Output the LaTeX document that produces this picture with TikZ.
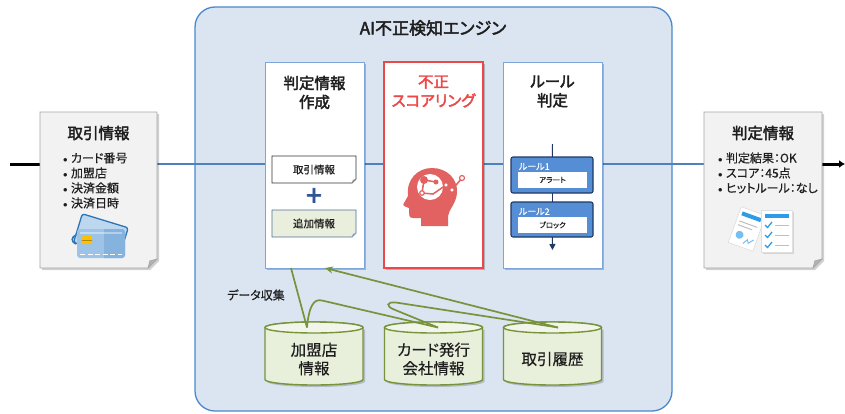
\documentclass[tikz,border=0pt]{standalone}
\usepackage{fontspec}
\setmainfont{Noto Sans CJK JP}[RawFeature={+palt},FakeBold=0.5,BoldFont=*,BoldFeatures={FakeBold=2.4}]
\usetikzlibrary{arrows.meta,shadows,calc}

\definecolor{engfill}{RGB}{219,228,241}
\definecolor{engline}{RGB}{74,137,204}
\definecolor{flowblue}{RGB}{79,129,189}
\definecolor{boxline}{RGB}{125,165,215}
\definecolor{scorered}{RGB}{236,72,72}
\definecolor{docfill}{RGB}{242,242,242}
\definecolor{docline}{RGB}{166,166,166}
\definecolor{dbfill}{RGB}{232,239,219}
\definecolor{dbtop}{RGB}{242,246,234}
\definecolor{dbline}{RGB}{119,147,60}
\definecolor{rulefill}{RGB}{85,142,213}
\definecolor{ruleline}{RGB}{31,56,100}
\definecolor{plusblue}{RGB}{47,85,151}
\definecolor{headred}{RGB}{226,98,98}
\definecolor{addfill}{RGB}{234,239,221}
\definecolor{addline}{RGB}{79,112,160}
\definecolor{txt}{RGB}{30,30,30}
\definecolor{cardblue}{RGB}{46,117,182}
\definecolor{cardpale}{RGB}{189,215,238}
\definecolor{cardfront}{RGB}{157,195,230}
\definecolor{cardfrontdark}{RGB}{134,178,222}
\definecolor{chipgold}{RGB}{255,192,0}
\definecolor{iconblue}{RGB}{47,155,232}
\definecolor{iconlight}{RGB}{120,190,240}

\newcommand\setfs[2]{\fontsize{#1}{#2}\selectfont}

% outline of a sheet with a folded lower right corner, shifted by #3
\newcommand\sheetpath[3]{([xshift=#3,yshift=-#3]#1.north west) -- ([xshift=#3,yshift=-#3]#1.north east) -- ([xshift=#3,yshift=#2-#3]#1.south east) -- ([xshift=#3-#2,yshift=-#3]#1.south east) -- ([xshift=#3,yshift=-#3]#1.south west) -- cycle}
\newcommand\foldcorner[2]{([yshift=#2]#1.south east) -- ([xshift=-#2]#1.south east) -- ([xshift=-0.8*#2,yshift=0.8*#2]#1.south east) -- cycle}

% database cylinder: name, centre x, label
\newcommand\dbstore[3]{%
  \fill[black,opacity=0.18] ({#2-47},329.5) -- ({#2-47},381.5) arc[start angle=180,end angle=360,x radius=49pt,y radius=5.5pt] -- ({#2+51},329.5) -- cycle;
  \filldraw[fill=dbfill,draw=dbline,line width=1.4pt] ({#2-49},327.5) -- ({#2-49},379.5) arc[start angle=180,end angle=360,x radius=49pt,y radius=5.5pt] -- ({#2+49},327.5) arc[start angle=0,end angle=180,x radius=49pt,y radius=5.5pt] -- cycle;
  \filldraw[fill=dbtop,draw=dbline,line width=1.4pt] (#2,327.5) ellipse[x radius=49pt,y radius=5.5pt];
  \coordinate (#1-top) at (#2,327.5);
  \node[dblabel] (#1) at (#2,359) {#3};
}

\tikzset{
  every node/.style={inner sep=0pt,outer sep=0pt},
  engine/.style={draw=engline,fill=engfill,line width=1.3pt,rounded corners=20pt,minimum width=477pt,minimum height=404pt},
  enginetitle/.style={font=\bfseries\setfs{17}{20},text=txt},
  stage/.style={draw=boxline,fill=white,line width=0.9pt,minimum width=99pt,minimum height=206pt,
    drop shadow={opacity=0.22,shadow xshift=2pt,shadow yshift=-2pt,fill=black}},
  scorestage/.style={stage,draw=scorered,line width=1.8pt},
  stagetitle/.style={font=\bfseries\setfs{15.5}{19},text=txt,align=center},
  docarea/.style={minimum width=117pt,minimum height=156pt},
  docsheet/.style={fill=docfill,draw=docline,line width=0.9pt},
  doctitle/.style={font=\bfseries\setfs{15.5}{19},text=txt},
  bulletline/.style={anchor=base west,font=\setfs{12}{15},text=txt},
  flowin/.style={line width=3pt,black},
  flow/.style={line width=2.4pt,flowblue},
  minidoc/.style={minimum width=84pt,minimum height=27pt},
  minitext/.style={font=\setfs{10.5}{12},text=txt},
  rulebox/.style={draw=ruleline,fill=rulefill,line width=1.1pt,rounded corners=2pt,minimum width=82pt},
  rulelabel/.style={anchor=west,font=\setfs{9}{10},text=white},
  ruleact/.style={fill=white,minimum width=69pt,minimum height=16pt,font=\setfs{7.5}{8},text=txt},
  rulelink/.style={line width=1pt,ruleline},
  dblabel/.style={font=\setfs{15.5}{18.5},text=txt,align=center},
  feed/.style={line width=1.7pt,dbline},
  feedlabel/.style={font=\setfs{12}{14},text=txt},
}

\begin{document}
\begin{tikzpicture}[x=1pt,y=-1pt]
\useasboundingbox (0,0) rectangle (845,413);
\fill[white] (0,0) rectangle (845,413);

% engine frame
\node[engine] (eng) at (433.5,209) {};
\node[enginetitle] (engtitle) at (433,28) {AI不正検知エンジン};

% main data flow
\coordinate (in) at (10,164);
\coordinate (out) at (845,164);
\node[docarea] (ldoc) at (98.5,190) {};
\node[docarea,minimum width=118pt] (rdoc) at (763,190) {};
\draw[flowin] (in) -- (ldoc.west |- in);
\draw[flow] (ldoc.east |- in) -- (rdoc.west |- in);
\draw[flowin,-{Latex[length=6pt,width=8pt]}] (rdoc.east |- in) -- (out);

% input sheet
\fill[black,opacity=0.18] \sheetpath{ldoc}{9pt}{2pt};
\filldraw[docsheet] \sheetpath{ldoc}{9pt}{0pt};
\filldraw[fill=black!30,draw=docline,line width=0.6pt] \foldcorner{ldoc}{9pt};
\node[doctitle] (ldoctitle) at (98.5,133) {取引情報};
\node[bulletline] (lb1) at (63,162.5) {\makebox[8pt][l]{\scalebox{0.75}{$\bullet$}}カード番号};
\node[bulletline] (lb2) at (63,177.5) {\makebox[8pt][l]{\scalebox{0.75}{$\bullet$}}加盟店};
\node[bulletline] (lb3) at (63,192.5) {\makebox[8pt][l]{\scalebox{0.75}{$\bullet$}}決済金額};
\node[bulletline] (lb4) at (63,207.5) {\makebox[8pt][l]{\scalebox{0.75}{$\bullet$}}決済日時};
% card icon
\begin{scope}[rotate around={-17:(100,238)}]
  \filldraw[fill=cardpale,draw=cardblue,line width=1.3pt,rounded corners=2.5pt] (76,220) rectangle (124,250);
\end{scope}
\draw[cardblue,line width=1.6pt] (76,235) .. controls (71,237) and (71,242) .. (76,244);
\fill[cardfront,rounded corners=3pt] (77,229) rectangle (125,258);
\fill[cardfrontdark,rounded corners=3pt] (101,229) rectangle (125,258);
\fill[cardfront] (101,229) rectangle (104,258);
\fill[white,opacity=0.4] (80,231.5) rectangle (122,234);
\fill[chipgold,rounded corners=1pt] (82,236) rectangle (92,244);
\draw[black!30!chipgold,line width=0.6pt] (82,240) -- (92,240);
\draw[white,line width=1.3pt,dash pattern=on 5pt off 2.5pt] (80,254.5) -- (122,254.5);

% output sheet
\fill[black,opacity=0.18] \sheetpath{rdoc}{9pt}{2pt};
\filldraw[docsheet] \sheetpath{rdoc}{9pt}{0pt};
\filldraw[fill=black!30,draw=docline,line width=0.6pt] \foldcorner{rdoc}{9pt};
\node[doctitle] (rdoctitle) at (763,133) {判定情報};
\node[bulletline] (rb1) at (718,162.5) {\makebox[8pt][l]{\scalebox{0.75}{$\bullet$}}判定結果：OK};
\node[bulletline] (rb2) at (718,177.5) {\makebox[8pt][l]{\scalebox{0.75}{$\bullet$}}スコア：45点};
\node[bulletline] (rb3) at (718,192.5) {\makebox[8pt][l]{\scalebox{0.75}{$\bullet$}}ヒットルール：なし};
% report icon
\begin{scope}[rotate around={-20:(747,229)}]
  \filldraw[fill=white,draw=black!15,line width=0.5pt] (734,210) rectangle (760,248);
  \fill[iconblue] (737,214) rectangle (757,218);
  \draw[black!25,line width=1pt] (737,224) -- (756,224) (737,228) -- (752,228);
  \fill[iconlight] (742,237) circle[radius=4pt];
  \draw[iconlight,line width=1pt] (748,244) -- (751,239) -- (753,242) -- (757,237);
\end{scope}
\fill[black,opacity=0.12] (763,212) rectangle (794,254);
\filldraw[fill=white,draw=black!12,line width=0.5pt] (761,210) rectangle (792,252);
\fill[iconblue] (765,214) rectangle (789,218);
\foreach \yy in {225,235,245}{
  \draw[iconblue,line width=1.3pt] (765,\yy) -- (767.5,\yy+2.5) -- (772,\yy-3);
  \draw[black!25,line width=1pt] (775,\yy) -- (789,\yy);
}

% stage 1: build judgement data
\node[stage] (b1) at (314.5,165) {};
\node[stagetitle] (b1title) at (314.5,92.5) {判定情報\\作成};
\node[minidoc] (d1) at (314,169.5) {};
\filldraw[fill=white,draw=black!80,line width=0.8pt] \sheetpath{d1}{4pt}{0pt};
\fill[black!40] \foldcorner{d1}{4pt};
\node[minitext] (d1text) at (d1) {取引情報};
\node[font=\bfseries\setfs{28}{28},text=plusblue] (plus) at (314,197) {+};
\node[minidoc] (d2) at (314,223.5) {};
\filldraw[fill=addfill,draw=addline,line width=0.9pt] \sheetpath{d2}{4pt}{0pt};
\fill[addline!60] \foldcorner{d2}{4pt};
\node[minitext] (d2text) at (d2) {追加情報};

% stage 2: fraud scoring
\node[scorestage] (b2) at (433.5,165) {};
\node[stagetitle,text=scorered] (b2title) at (433.5,91.5) {不正\\スコアリング};
% head icon
\fill[headred] (421,226) -- (421,218) -- (413,218) .. controls (409,218) and (409,215) .. (409,212) -- (409,208) -- (404,206) .. controls (403,205) and (403,204) .. (404,203) -- (408,196) .. controls (406,179) and (418,168) .. (432,168) .. controls (447,168) and (458,179) .. (457,193) .. controls (456,204) and (449,209) .. (448,216) -- (448,226) -- cycle;
\fill[white] (430,187) circle[radius=13pt];
\draw[headred,line width=1.5pt] (424,180) -- (422,193) -- (433,194) -- (446,185) -- (452,190) -- (462,178);
\draw[headred,line width=1.5pt] (424,180) -- (436,182);
\fill[headred] (424,180) circle[radius=4pt];
\fill[headred] (436,182) circle[radius=2.5pt];
\filldraw[fill=white,draw=headred,line width=1.2pt] (422,193) circle[radius=2.3pt];
\filldraw[fill=white,draw=headred,line width=1.2pt] (446,185) circle[radius=2.3pt];
\filldraw[fill=white,draw=headred,line width=1.2pt] (452,190) circle[radius=2.3pt];
\filldraw[fill=white,draw=headred,line width=1.2pt] (462,178) circle[radius=2.5pt];

% stage 3: rule check
\node[stage] (b3) at (552.5,165) {};
\node[stagetitle] (b3title) at (552.5,91.5) {ルール\\判定};
\coordinate (rtop) at (552.5,144);
\coordinate (rend) at (552.5,250);
\node[rulebox,minimum height=36pt] (r1) at (552,175) {};
\node[rulebox,minimum height=35pt] (r2) at (552,219.5) {};
\draw[rulelink] (rtop) -- (r1);
\draw[rulelink] (r1) -- (r2);
\draw[rulelink,-{Triangle[length=6pt,width=6pt]}] (r2) -- (rend);
\node[rulelabel] (r1label) at (519,166.5) {ルール1};
\node[ruleact] (a1) at (552.5,180) {アラート};
\node[rulelabel] (r2label) at (519,211.5) {ルール2};
\node[ruleact] (a2) at (552.5,225) {ブロック};

% data sources
\dbstore{c1}{314}{加盟店\\情報}
\dbstore{c2}{433.5}{カード発行\\会社情報}
\dbstore{c3}{552.5}{取引履歴}
\node[feedlabel] (collect) at (256,295) {データ収集};

% collection links
\draw[feed] ([xshift=-7pt]c1-top) -- ([xshift=-23.5pt]b1.south);
\draw[feed] ([xshift=-7pt]c1-top) .. controls +(2,-22) and +(-8,-2) .. ++(15,-27) -- ([xshift=4.5pt]c2-top);
\draw[feed] ([xshift=4.5pt]c2-top) -- ++(-44,-18) .. controls +(-8,-3) and +(-10,-1) .. ++(2,-7) -- ([xshift=5.5pt]c3-top);
\draw[feed,-{Stealth[length=8pt,width=7pt]}] ([xshift=5.5pt]c3-top) -- ([xshift=10.5pt]b1.south);
\end{tikzpicture}
\end{document}
